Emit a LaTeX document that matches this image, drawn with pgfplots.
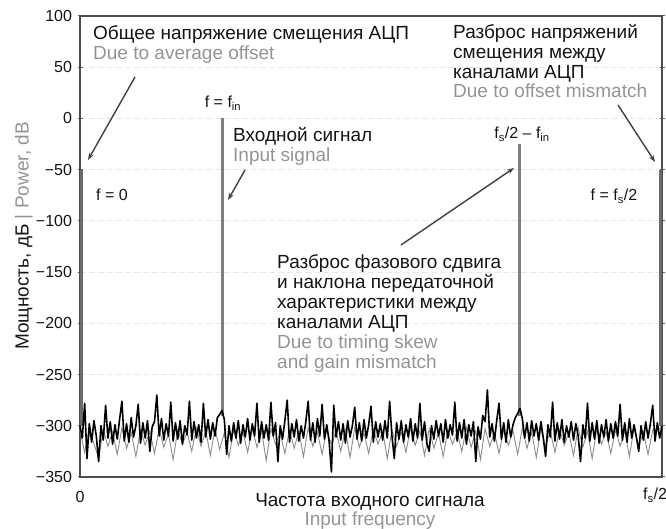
\documentclass[border=0pt]{standalone}
\usepackage{fontspec}
\setmainfont{Liberation Sans}
\usepackage{pgfplots}
\pgfplotsset{compat=1.18}
\usetikzlibrary{arrows.meta}
\definecolor{txt}{gray}{0.08}
\definecolor{gtxt}{gray}{0.58}
\definecolor{arr}{gray}{0.25}
\definecolor{sig}{gray}{0.5}
\definecolor{edge}{gray}{0.42}
\newcommand\bigf{\fontsize{19}{20}\selectfont}
\newcommand\midf{\fontsize{16}{18}\selectfont}
\begin{document}
\begin{tikzpicture}[x=1pt,y=1pt]
\useasboundingbox (0,0) rectangle (666,529);
\begin{axis}[
  at={(80pt,52pt)}, anchor=south west,
  width=582pt, height=461pt, scale only axis,
  xmin=0, xmax=1, ymin=-350, ymax=100,
  xtick=\empty,
  ytick={-350,-300,-250,-200,-150,-100,-50,0,50,100},
  yticklabels={−350,−300,−250,−200,−150,−100,−50,0,50,100},
  yticklabel style={font=\midf, text=txt, xshift=-2pt},
  clip=false,
  axis line style={black!70, line width=1.3pt},
  major tick length=5pt, tick align=center,
  tick style={black!60, line width=1pt},
  ymajorgrids, grid style={black!9, line width=0.8pt, dash pattern=on 6pt off 3pt},
]
% edge spikes (average offset at f=0, offset mismatch at fs/2)
\addplot[edge, line width=3.5pt] coordinates {(0.003,-300) (0.003,-50)};
\addplot[edge, line width=3.5pt] coordinates {(0.997,-300) (0.997,-50)};
% input signal and timing-skew/gain-mismatch spur
\addplot[sig, line width=3pt] coordinates {(0.244,-290) (0.244,0)};
\addplot[sig, line width=3pt] coordinates {(0.7543,-290) (0.7543,-25)};
% lighter lower noise component
\addplot[black!45, line width=0.9pt] table[x expr=\coordindex/125, y index=0, header=false] {
-305
-326
-303
-318
-331
-304
-320
-306
-328
-302
-322
-307
-330
-304
-319
-305
-327
-303
-321
-308
-333
-304
-318
-306
-325
-302
-320
-305
-329
-303
-323
-307
-331
-304
-319
-306
-326
-302
-321
-305
-334
-303
-318
-307
-327
-304
-322
-305
-330
-302
-320
-306
-328
-303
-319
-305
-325
-304
-331
-302
-321
-307
-327
-303
-318
-305
-332
-304
-320
-306
-326
-302
-319
-305
-329
-303
-322
-307
-330
-304
-318
-306
-325
-302
-321
-305
-333
-303
-320
-307
-327
-304
-319
-305
-328
-302
-322
-306
-331
-303
-320
-305
-326
-304
-319
-307
-329
-302
-321
-305
-332
-303
-318
-306
-327
-304
-320
-305
-330
-302
-321
-306
-328
-304
-305
-300
};
% noise floor
\addplot[black, line width=1.6pt, line join=round] table[x expr=\coordindex/250, y index=0, header=false] {
-300
-312
-278
-332
-298
-316
-295
-310
-335
-300
-314
-280
-312
-296
-318
-299
-313
-294
-276
-315
-298
-316
-292
-311
-300
-279
-317
-297
-312
-295
-325
-301
-296
-270
-310
-293
-314
-298
-310
-277
-315
-297
-313
-295
-318
-300
-309
-276
-314
-296
-312
-299
-316
-278
-311
-294
-313
-297
-310
-292
-289
-285
-294
-328
-300
-315
-297
-312
-295
-317
-299
-311
-293
-314
-298
-310
-278
-316
-296
-312
-299
-314
-277
-310
-297
-335
-300
-313
-295
-275
-316
-298
-311
-294
-315
-300
-312
-296
-276
-314
-297
-316
-293
-310
-279
-313
-299
-315
-345
-280
-311
-296
-314
-298
-317
-295
-311
-300
-282
-313
-297
-315
-294
-312
-299
-281
-316
-296
-311
-298
-314
-295
-312
-276
-310
-332
-297
-313
-295
-316
-299
-311
-293
-315
-298
-312
-278
-314
-296
-317
-325
-300
-313
-295
-310
-298
-316
-294
-312
-299
-309
-277
-315
-297
-312
-294
-318
-299
-310
-296
-335
-301
-313
-290
-296
-265
-311
-298
-315
-295
-278
-313
-297
-316
-294
-311
-299
-292
-288
-283
-293
-312
-297
-315
-295
-310
-298
-314
-296
-312
-330
-299
-311
-277
-315
-297
-313
-294
-316
-300
-311
-296
-314
-298
-310
-335
-299
-312
-278
-315
-297
-313
-295
-317
-299
-311
-294
-315
-298
-312
-296
-310
-279
-314
-297
-316
-293
-312
-299
-311
-325
-300
-314
-296
-312
-298
-280
-315
-297
-312
-300
};
\end{axis}
% annotations
\begin{scope}[every node/.style={inner sep=0pt}]
\node[anchor=base west, font=\bigf, text=txt] at (93,489.5) {Общее напряжение смещения АЦП};
\node[anchor=base west, font=\bigf, text=gtxt] at (93,469.5) {Due to average offset};
\node[anchor=base west, font=\bigf, text=txt] at (453,490.5) {Разброс напряжений};
\node[anchor=base west, font=\bigf, text=txt] at (453,470.5) {смещения между};
\node[anchor=base west, font=\bigf, text=txt] at (453,450.5) {каналами АЦП};
\node[anchor=base west, font=\bigf, text=gtxt] at (453,431.5) {Due to offset mismatch};
\node[anchor=base, font=\midf, text=txt] at (223,421) {f = f\textsubscript{in}};
\node[anchor=base west, font=\bigf, text=txt] at (233,387.5) {Входной сигнал};
\node[anchor=base west, font=\bigf, text=gtxt] at (233,367.5) {Input signal};
\node[anchor=base, font=\midf, text=txt] at (522,390) {f\textsubscript{s}/2 – f\textsubscript{in}};
\node[anchor=base, font=\midf, text=txt] at (112,328) {f = 0};
\node[anchor=base, font=\midf, text=txt] at (614,328) {f = f\textsubscript{s}/2};
\node[anchor=base west, font=\bigf, text=txt] at (277,260.5) {Разброс фазового сдвига};
\node[anchor=base west, font=\bigf, text=txt] at (277,240.5) {и наклона передаточной};
\node[anchor=base west, font=\bigf, text=txt] at (277,220.5) {характеристики между};
\node[anchor=base west, font=\bigf, text=txt] at (277,200.5) {каналами АЦП};
\node[anchor=base west, font=\bigf, text=gtxt] at (277,180.5) {Due to timing skew};
\node[anchor=base west, font=\bigf, text=gtxt] at (277,160.5) {and gain mismatch};
% axis labels
\node[anchor=base, font=\bigf, text=txt] at (370,22.5) {Частота входного сигнала};
\node[anchor=base, font=\bigf, text=gtxt] at (370,3) {Input frequency};
\node[font=\midf, text=txt] at (80,32) {0};
\node[font=\midf, text=txt] at (655,34) {f\textsubscript{s}/2};
\node[anchor=base, rotate=90, font=\bigf, text=txt] at (28.5,293) {Мощность, дБ \textcolor{gtxt}{| Power, dB}};
\end{scope}
% arrows
\draw[arr, line width=1.4pt, -{Stealth[length=7pt,width=5pt]}] (135,452) -- (88,369);
\draw[arr, line width=1.4pt, -{Stealth[length=7pt,width=5pt]}] (245,359) -- (228,329);
\draw[arr, line width=1.4pt, -{Stealth[length=7pt,width=5pt]}] (401,284) -- (514,361);
\draw[arr, line width=1.4pt, -{Stealth[length=7pt,width=5pt]}] (618,424) -- (655,367);
\end{tikzpicture}
\end{document}
